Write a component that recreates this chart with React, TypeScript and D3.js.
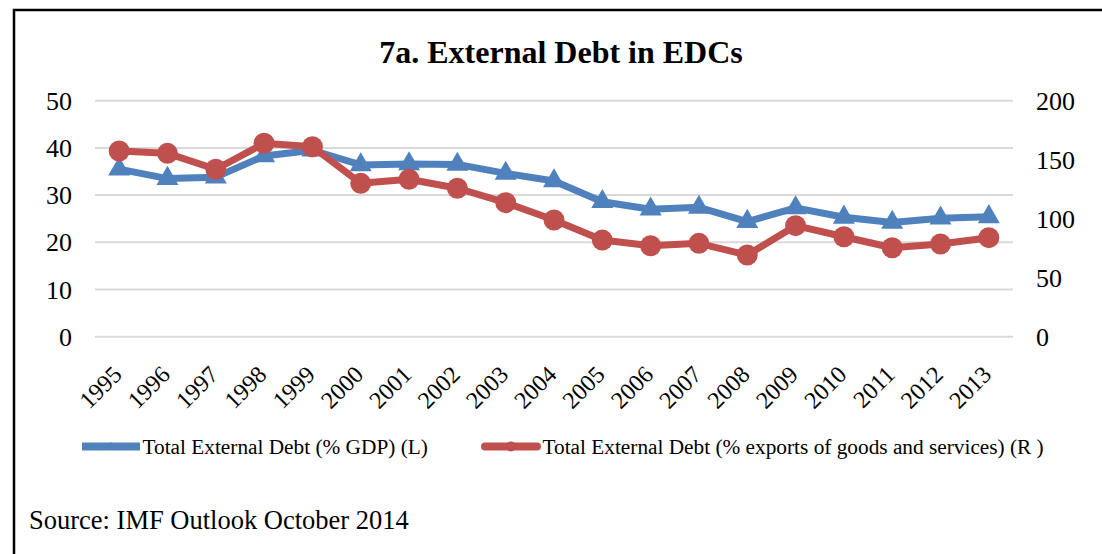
import React from "react";
import * as d3 from "d3";

const years = ["1995","1996","1997","1998","1999","2000","2001","2002","2003","2004","2005","2006","2007","2008","2009","2010","2011","2012","2013"];
const debtGDP = [35.5,33.5,33.8,38.3,39.5,36.4,36.6,36.5,34.6,33.0,28.6,27.0,27.4,24.4,27.3,25.3,24.2,25.1,25.4];
const debtExports = [157.4,155.4,141.9,163.9,161.0,130.0,133.4,125.8,113.6,98.9,81.9,77.1,79.1,69.2,94.1,84.7,75.4,78.6,83.9];
const leftTicks = [0,10,20,30,40,50];
const rightTicks = [0,50,100,150,200];
const title = "7a. External Debt in EDCs";
const legendL = "Total External Debt (% GDP) (L)";
const legendR = "Total External Debt (% exports of goods and services) (R )";
const source = "Source: IMF Outlook October 2014";

const BLUE = "#4F81BD";
const RED = "#C0504D";
const FONT = "'Liberation Serif', 'Times New Roman', serif";

export default function App() {
  const W = 1102, H = 554;
  const x = d3.scaleBand<string>().domain(years).range([95, 1013]);
  const yL = d3.scaleLinear().domain([0, 50]).range([336.7, 100.7]);
  const yR = d3.scaleLinear().domain([0, 200]).range([336.7, 100.7]);
  const cx = (d: string) => (x(d) as number) + x.bandwidth() / 2;

  const lineL = d3.line<number>().x((_, i) => cx(years[i])).y((v) => yL(v));
  const lineR = d3.line<number>().x((_, i) => cx(years[i])).y((v) => yR(v));
  const tri = d3.symbol().type(d3.symbolTriangle).size(210)();
  const triSmall = d3.symbol().type(d3.symbolTriangle).size(30)();

  return (
    <svg width={W} height={H} style={{ position: "absolute", left: 0, top: 0, background: "#fff" }} fontFamily={FONT}>
      <rect x={0} y={0} width={W} height={H} fill="#fff" />
      <path d={`M14,${H + 5} L14,10 L${W + 5},10`} fill="none" stroke="#000" strokeWidth={2.5} />
      <text x={561} y={63} textAnchor="middle" fontSize={32} fontWeight="bold">{title}</text>

      {leftTicks.map((t) => (
        <line key={"g" + t} x1={95} x2={1013} y1={yL(t)} y2={yL(t)} stroke="#d9d9d9" strokeWidth={2} />
      ))}
      {leftTicks.map((t) => (
        <text key={"l" + t} x={72} y={yL(t)} dy="0.35em" textAnchor="end" fontSize={26}>{t}</text>
      ))}
      {rightTicks.map((t) => (
        <text key={"r" + t} x={1036} y={yR(t)} dy="0.35em" textAnchor="start" fontSize={26}>{t}</text>
      ))}
      {years.map((yr) => (
        <text key={"x" + yr} transform={`translate(${cx(yr) + 4},376) rotate(-45)`} textAnchor="end" fontSize={24}>{yr}</text>
      ))}

      <path d={lineL(debtGDP) || ""} fill="none" stroke={BLUE} strokeWidth={7} strokeLinejoin="round" />
      {debtGDP.map((v, i) => (
        <path key={"t" + i} d={tri || ""} transform={`translate(${cx(years[i])},${yL(v)})`} fill={BLUE} />
      ))}
      <path d={lineR(debtExports) || ""} fill="none" stroke={RED} strokeWidth={7} strokeLinejoin="round" />
      {debtExports.map((v, i) => (
        <circle key={"c" + i} cx={cx(years[i])} cy={yR(v)} r={10.5} fill={RED} />
      ))}

      <line x1={82} x2={140} y1={446.5} y2={446.5} stroke={BLUE} strokeWidth={8} />
      <path d={triSmall || ""} transform="translate(111,446.5)" fill={BLUE} />
      <text x={142.5} y={453.5} fontSize={21.3}>{legendL}</text>
      <line x1={485} x2={537} y1={446.5} y2={446.5} stroke={RED} strokeWidth={8} strokeLinecap="round" />
      <circle cx={511} cy={446.5} r={5} fill={RED} />
      <text x={542.5} y={453.5} fontSize={21.3}>{legendR}</text>

      <text x={29} y={529} fontSize={26.5}>{source}</text>
    </svg>
  );
}
